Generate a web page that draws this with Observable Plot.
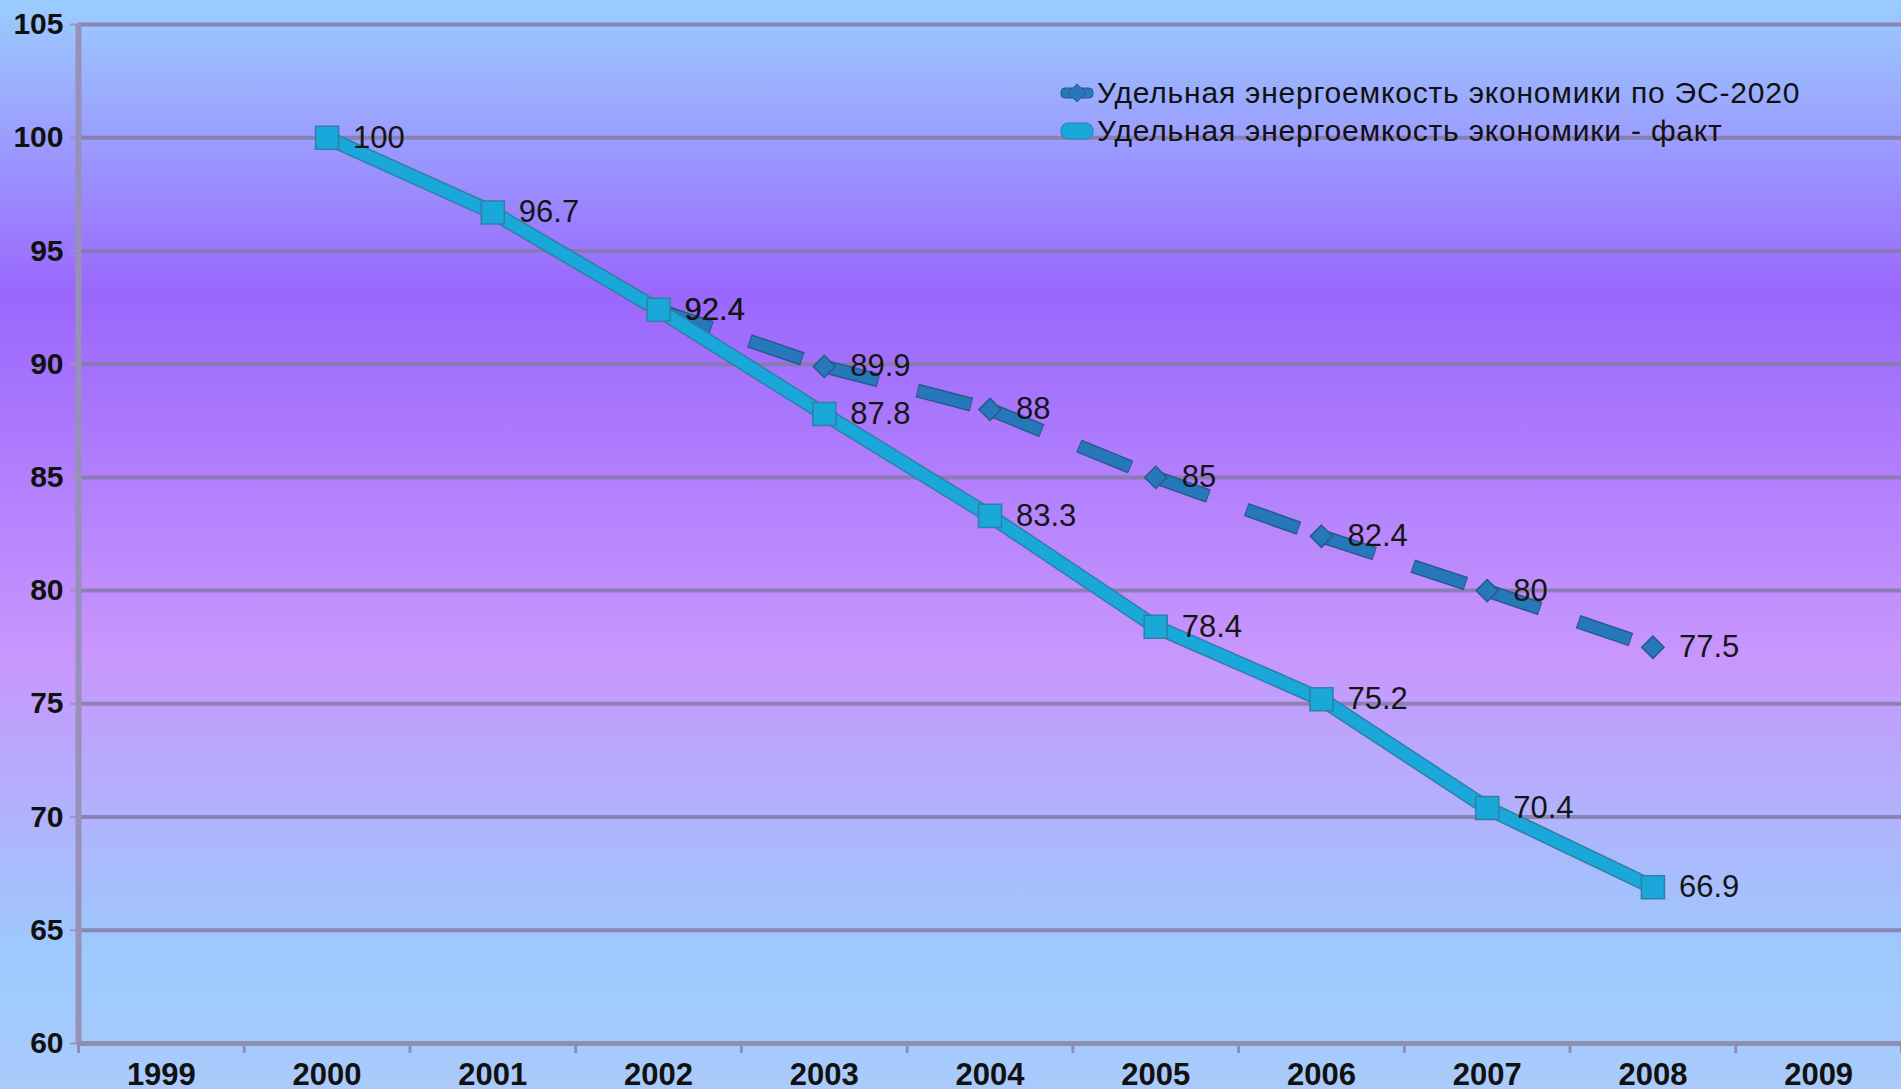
<!DOCTYPE html>
<html>
<head>
<meta charset="utf-8">
<script src="https://cdn.jsdelivr.net/npm/d3@7"></script>
<script src="https://cdn.jsdelivr.net/npm/@observablehq/plot@0.6"></script>
<style>
  html, body { margin: 0; padding: 0; }
  body {
    width: 1901px; height: 1089px; overflow: hidden; position: relative;
    background: linear-gradient(to bottom, #9bcdff 0%, #9a67fd 27%, #c896fd 60%, #9ccbfd 88%, #aacafb 100%);
    font-family: "Liberation Sans", Arial, sans-serif;
  }
  #chart { position: absolute; left: 0; top: 0; }
  #legend { position: absolute; left: 1060px; top: 74px; font-size: 30px; letter-spacing: 0.8px; color: #111; }
  .item { display: flex; align-items: center; height: 38px; white-space: nowrap; }
  .item svg { margin-right: 3px; }
</style>
</head>
<body>
<div id="chart"></div>
<div id="legend"></div>
<script>
const years = [1999, 2000, 2001, 2002, 2003, 2004, 2005, 2006, 2007, 2008, 2009];
const seriesNames = ["Удельная энергоемкость экономики по ЭС-2020", "Удельная энергоемкость экономики - факт"];
const planYears = [2002, 2003, 2004, 2005, 2006, 2007, 2008];
const planValues = [92.4, 89.9, 88, 85, 82.4, 80, 77.5];
const factYears = [2000, 2001, 2002, 2003, 2004, 2005, 2006, 2007, 2008];
const factValues = [100, 96.7, 92.4, 87.8, 83.3, 78.4, 75.2, 70.4, 66.9];
const yTicks = [60, 65, 70, 75, 80, 85, 90, 95, 100, 105];

const plan = planYears.map((x, i) => ({x, y: planValues[i]}));
const fact = factYears.map((x, i) => ({x, y: factValues[i]}));
const planSegs = plan.slice(1).map((d, i) => ({x1: plan[i].x, y1: plan[i].y, x2: d.x, y2: d.y}));
const bounds = years.map(y => y - 0.5).concat([years[years.length - 1] + 0.5]);

const gridColor = "#857aa8";
const planColor = "#2778bb", planEdge = "#28598a";
const factColor = "#1aa8da", factEdge = "#2f7fa6";

const chart = Plot.plot({
  width: 1901, height: 1089,
  marginLeft: 78, marginRight: 0, marginTop: 24, marginBottom: 46,
  x: {domain: [years[0] - 0.5, years[years.length - 1] + 0.5]},
  y: {domain: [yTicks[0], yTicks[yTicks.length - 1]]},
  style: {background: "transparent", fontFamily: "'Liberation Sans', Arial, sans-serif", overflow: "visible"},
  marks: [
    Plot.gridY(yTicks.slice(1), {stroke: gridColor, strokeOpacity: 0.85, strokeWidth: 4}),
    Plot.axisY(yTicks, {tickSize: 8, tickPadding: 7, fontSize: 30, fontWeight: "bold", fill: "#111", stroke: "#9a94b8", strokeWidth: 2, label: null}),
    Plot.axisX(bounds, {tickSize: 10, tickFormat: () => "", stroke: "#8e8fb0", strokeWidth: 3, label: null}),
    Plot.axisX(years, {tickSize: 0, tickPadding: 19, tickFormat: d => String(d), fontSize: 31, fontWeight: "bold", fill: "#111", label: null}),
    Plot.ruleY([yTicks[0]], {stroke: "#8e8fb0", strokeWidth: 5}),
    Plot.ruleX([years[0] - 0.5], {stroke: "#9790b8", strokeWidth: 6}),
    // dashed plan series, dash pattern restarting on each segment
    Plot.link(planSegs, {x1: "x1", y1: "y1", x2: "x2", y2: "y2", stroke: planEdge, strokeWidth: 14, strokeDasharray: "56,40", strokeLinecap: "butt"}),
    Plot.link(planSegs, {x1: "x1", y1: "y1", x2: "x2", y2: "y2", stroke: planColor, strokeWidth: 11, strokeDasharray: "54,42", strokeDashoffset: -1, strokeLinecap: "butt"}),
    Plot.dot(plan, {x: "x", y: "y", symbol: "diamond2", r: 10, fill: planColor, stroke: planEdge, strokeWidth: 1.5}),
    // solid fact series
    Plot.line(fact, {x: "x", y: "y", stroke: factEdge, strokeWidth: 15, strokeLinejoin: "round"}),
    Plot.line(fact, {x: "x", y: "y", stroke: factColor, strokeWidth: 12, strokeLinejoin: "round"}),
    Plot.dot(fact, {x: "x", y: "y", symbol: "square", r: 13, fill: factColor, stroke: factEdge, strokeWidth: 1.5}),
    // data labels
    Plot.text(plan, {x: "x", y: "y", text: d => String(d.y), textAnchor: "start", dx: 26, fontSize: 31, fill: "#151515"}),
    Plot.text(fact, {x: "x", y: "y", text: d => String(d.y), textAnchor: "start", dx: 26, fontSize: 31, fill: "#151515"})
  ]
});
document.getElementById("chart").appendChild(chart);

// legend (drawn inside the plot area, top right)
const legend = document.getElementById("legend");
const icons = [
  `<svg width="34" height="20"><rect x="1" y="5" width="32" height="10" rx="4" fill="${planColor}" stroke="${planEdge}" stroke-width="1"/><path d="M17 1 L26 10 L17 19 L8 10 Z" fill="${planColor}" stroke="${planEdge}" stroke-width="1"/></svg>`,
  `<svg width="34" height="20"><rect x="1" y="2" width="32" height="16" rx="7" fill="${factColor}" stroke="${factEdge}" stroke-width="1"/></svg>`
];
seriesNames.forEach((name, i) => {
  const div = document.createElement("div");
  div.className = "item";
  div.innerHTML = icons[i] + `<span>${name}</span>`;
  legend.appendChild(div);
});
</script>
</body>
</html>
